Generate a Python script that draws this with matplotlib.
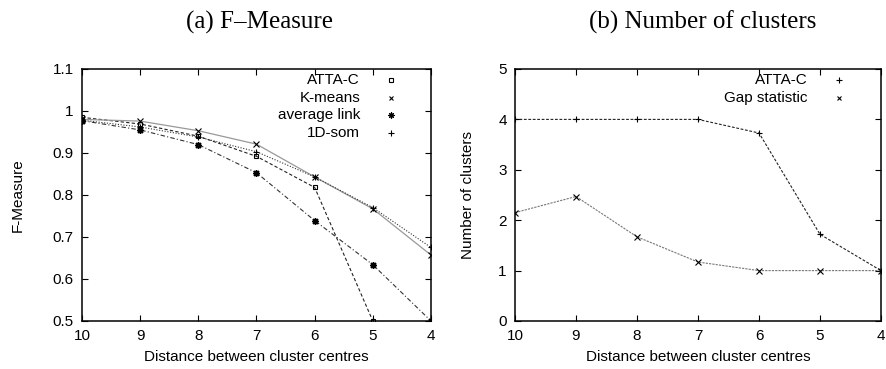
import numpy as np
import matplotlib
matplotlib.use("Agg")
import matplotlib.pyplot as plt

# distances between cluster centres (x axis, reversed)
dist = [10, 9, 8, 7, 6, 5, 4]

# (a) F-Measure
atta_f = [0.985, 0.969, 0.940, 0.892, 0.818, 0.50]
kmeans_f = [0.980, 0.976, 0.953, 0.921, 0.843, 0.767, 0.657]
avglink_f = [0.977, 0.955, 0.920, 0.853, 0.739, 0.634, 0.50]
som_f = [0.978, 0.962, 0.938, 0.903, 0.843, 0.770, 0.675]

# (b) Number of clusters
atta_k = [4.0, 4.0, 4.0, 4.0, 3.73, 1.72, 1.0]
gap_k = [2.15, 2.47, 1.67, 1.17, 1.0, 1.0, 1.0]

plt.rcParams['font.family'] = ['Liberation Sans', 'DejaVu Sans']

W, H = 887, 369
fig = plt.figure(figsize=(W / 100, H / 100), dpi=100)
ax1 = fig.add_axes([82 / W, 1 - 321 / H, 349 / W, 252 / H])
ax2 = fig.add_axes([515 / W, 1 - 321 / H, 366 / W, 252 / H])


def style_axes(ax):
    ax.set_xlim(10, 4)
    ax.set_xticks(dist)
    ax.tick_params(direction='in', length=4, width=0.8, top=True, right=True,
                   labelsize=11, pad=6)
    for s in ax.spines.values():
        s.set_linewidth(1.1)
    ax.set_xlabel('Distance between cluster centres', fontsize=11, labelpad=5)


def draw_key(ax, labels, markers, sizes, x_text, x_mark, y0, dy):
    # gnuplot style key: right aligned text with point sample only
    for i, (lab, m, ms) in enumerate(zip(labels, markers, sizes)):
        y = y0 - i * dy
        ax.text(x_text, y, lab, transform=ax.transAxes, ha='right', va='center',
                fontsize=11)
        ax.plot([x_mark], [y], transform=ax.transAxes, marker=m, ms=ms,
                color='black', mfc='none' if m == 's' else 'black', mew=0.8,
                linestyle='none', clip_on=False)


# ---- (a) F-Measure
ax1.plot(dist[:len(atta_f)], atta_f, color='#222222', lw=0.8, ls=(0, (3, 2)),
         marker='s', ms=3.5, mfc='none', mec='black', mew=0.8)
ax1.plot(dist, kmeans_f, color='#999999', lw=0.9, ls='-',
         marker='x', ms=4, mec='black', mew=0.8)
ax1.plot(dist, avglink_f, color='#333333', lw=0.8, ls=(0, (4, 2, 1, 2)),
         marker=(8, 2, 0), ms=5, mec='black', mew=1.0)
ax1.plot(dist, som_f, color='#333333', lw=0.8, ls=(0, (1, 1.5)),
         marker='+', ms=4.5, mec='black', mew=0.8)
ax1.set_ylim(0.5, 1.1)
ax1.set_yticks([0.5, 0.6, 0.7, 0.8, 0.9, 1.0, 1.1])
ax1.set_yticklabels(['0.5', '0.6', '0.7', '0.8', '0.9', '1', '1.1'])
style_axes(ax1)
ax1.set_ylabel('F-Measure', fontsize=11)
ax1.yaxis.set_label_coords((25 - 82) / 349, 0.5)
draw_key(ax1, ['ATTA-C', 'K-means', 'average link', '1D-som'],
         ['s', 'x', (8, 2, 0), '+'], [3.5, 3.5, 4.5, 4],
         0.797, 0.885, 0.955, 0.069)

# ---- (b) Number of clusters
ax2.plot(dist, atta_k, color='#222222', lw=0.8, ls=(0, (2.5, 1.5)),
         marker='+', ms=4.5, mec='black', mew=0.8)
ax2.plot(dist, gap_k, color='#777777', lw=0.8, ls=(0, (2, 1)),
         marker='x', ms=4, mec='black', mew=0.8)
ax2.set_ylim(0, 5)
ax2.set_yticks([0, 1, 2, 3, 4, 5])
style_axes(ax2)
ax2.set_ylabel('Number of clusters', fontsize=11)
ax2.yaxis.set_label_coords((475 - 515) / 366, 0.5)
draw_key(ax2, ['ATTA-C', 'Gap statistic'], ['+', 'x'], [4, 3.5],
         0.80, 0.885, 0.955, 0.069)

# panel captions (serif, like the paper)
fig.text(260 / W, 1 - 22 / H, '(a) F\u2013Measure', family=['Liberation Serif'],
         fontsize=18, ha='center', va='center')
fig.text(703 / W, 1 - 22 / H, '(b) Number of clusters', family=['Liberation Serif'],
         fontsize=18, ha='center', va='center')

fig.savefig('out.png', dpi=100)
